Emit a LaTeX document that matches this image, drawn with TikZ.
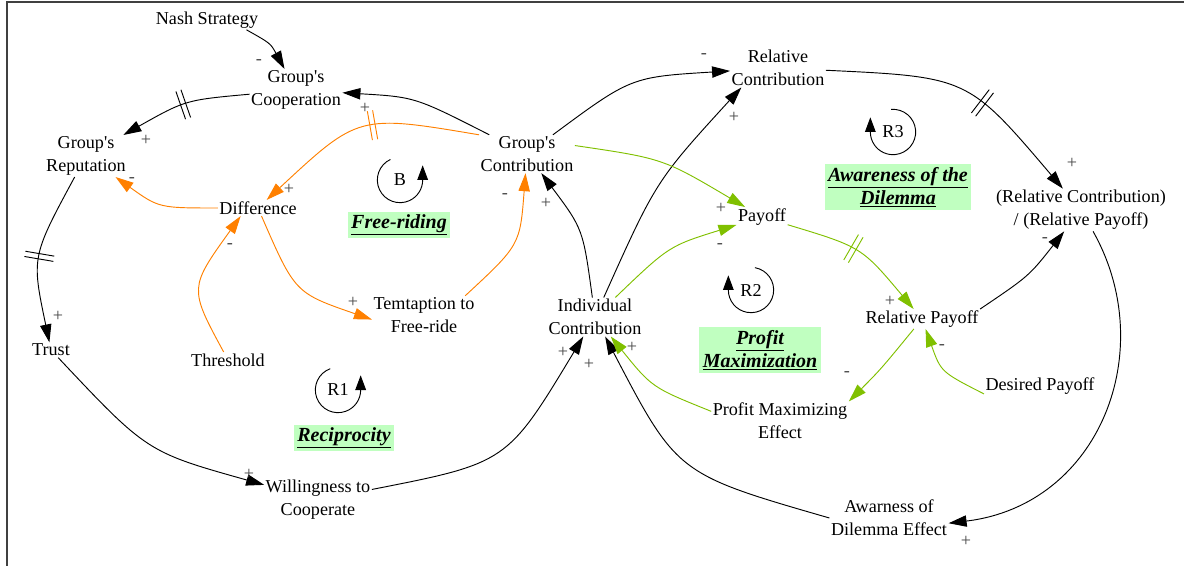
\documentclass[tikz,border=0pt]{standalone}
\usepackage{fontspec}
\setmainfont{Liberation Serif}
\usepackage{tikz}
\usetikzlibrary{arrows.meta, decorations.markings, calc}

\definecolor{cldorange}{RGB}{255,128,0}
\definecolor{cldgreen}{RGB}{128,192,0}
\definecolor{loopfill}{RGB}{192,255,192}
\definecolor{signgray}{RGB}{70,70,70}

\begin{document}
\begin{tikzpicture}[x=0.75pt, y=-0.75pt,
  every node/.style={font=\fontsize{13.6}{17.25}\selectfont},
  var/.style={align=center, inner sep=1pt},
  link/.style={line width=0.7pt, -{Triangle[length=13.5pt,width=8.5pt]}},
  orangelink/.style={link, color=cldorange},
  greenlink/.style={link, color=cldgreen},
  sign/.style={text=signgray, inner sep=0pt},
  delaymark/.style={postaction={decorate, decoration={markings, mark=at position #1 with {\draw[-, line width=0.7pt] (-2pt,-11pt) -- (-2pt,11pt); \draw[-, line width=0.7pt] (2pt,-11pt) -- (2pt,11pt);}}}},
  loopname/.style={inner sep=0pt},
  looparrow/.style={line width=0.7pt, -{Triangle[length=11pt,width=8pt]}},
  theme/.style={fill=loopfill, align=center, inner xsep=2.5pt, inner ysep=2pt, font=\fontsize{15}{17.25}\selectfont\bfseries\itshape}]
\useasboundingbox (0,0) rectangle (1184,566);

% Frame
\draw[line width=1.5pt, black!75] (1184,2) -- (7,2) -- (7,566);

% Variables
\node[var] (nash) at (207,20) {Nash Strategy};
\node[var] (gcoop) at (296,90) {Group\textquotesingle s\\Cooperation};
\node[var] (grep) at (86,156) {Group\textquotesingle s\\Reputation};
\node[var] (diff) at (258,208) {Difference};
\node[var] (trust) at (51,350) {Trust};
\node[var] (thresh) at (228,360) {Threshold};
\node[var] (tempt) at (424,315) {Temtaption to\\Free-ride};
\node[var] (gcont) at (527,154) {Group\textquotesingle s\\Contribution};
\node[var] (indiv) at (595,317) {Individual\\Contribution};
\node[var] (will) at (318,500) {Willingness to\\Cooperate};
\node[var] (relc) at (778,68) {Relative\\Contribution};
\node[var] (payoff) at (762,217) {Payoff};
\node[var] (ratio) at (1081,210) {(Relative Contribution)\\/ (Relative Payoff)};
\node[var] (relp) at (922,319) {Relative Payoff};
\node[var] (desp) at (1040,386) {Desired Payoff};
\node[var] (pme) at (780,421) {Profit Maximizing\\Effect};
\node[var] (awe) at (889,518) {Awarness of\\Dilemma Effect};

% Free-riding links
\draw[orangelink, delaymark=0.45] (gcont.north west) .. controls (358.5,114.5) .. (diff);
\draw[orangelink] (diff) .. controls (159,208) .. (grep);
\draw[orangelink] (thresh) .. controls (189,288) .. (diff.-155);
\draw[orangelink] (diff) .. controls (295,293) .. (tempt.185);
\draw[orangelink] (tempt.25) .. controls (520,245) .. (gcont);

% Reciprocity and awareness links
\draw[link] (nash.-14) .. controls (270.5,43.3) .. (gcoop);
\draw[link] (gcont) .. controls (415,97) .. (gcoop);
\draw[link, delaymark=0.5] (gcoop) .. controls (185.5,100) .. (grep);
\draw[link, delaymark=0.5] (grep) .. controls (31.5,257) .. (trust);
\draw[link] (trust) .. controls (147,452) .. (will);
\draw[link] (will) .. controls (507,463) .. (indiv);
\draw[link] (awe.west) .. controls (677,474) .. (indiv);
\draw[link] (indiv) .. controls (583,229) .. (gcont);
\draw[link] (indiv) .. controls (656,181) .. (relc.-152);
\draw[link] (gcont) .. controls (631,77) .. (relc);
\draw[link, delaymark=0.58] (relc) .. controls (968,77) .. (ratio);
\draw[link] (relp.north east) .. controls (1029,276) .. (ratio);
\draw[link] (ratio) .. controls (1160,350) and (1100,505) .. (awe.-5);

% Profit maximization links
\draw[greenlink] (pme.172) .. controls (652,387.5) .. (indiv);
\draw[greenlink] (gcont.10) .. controls (663,158.5) .. (payoff);
\draw[greenlink] (indiv) .. controls (669,246) .. (payoff);
\draw[greenlink, delaymark=0.45] (payoff) .. controls (861.5,247) .. (relp);
\draw[greenlink] (relp) .. controls (881,369) .. (pme.north east);
\draw[greenlink] (desp.-172) .. controls (941,372) .. (relp);

% Polarities
\node[sign] (p1) at (259,62) {-};
\node[sign] (p2) at (365,108) {+};
\node[sign] (p3) at (146,140) {+};
\node[sign] (p4) at (58,316) {+};
\node[sign] (p5) at (249,474) {+};
\node[sign] (p6) at (563,352) {+};
\node[sign] (p7) at (589,364) {+};
\node[sign] (p8) at (632,347) {+};
\node[sign] (p9) at (546,203) {+};
\node[sign] (p10) at (734,117) {+};
\node[sign] (p11) at (704,56) {-};
\node[sign] (p12) at (1072,163) {+};
\node[sign] (p13) at (1045,240) {-};
\node[sign] (p14) at (966,541) {+};
\node[sign] (p15) at (721,208) {+};
\node[sign] (p16) at (720,246) {-};
\node[sign] (p17) at (890,301) {+};
\node[sign] (p18) at (847,374) {-};
\node[sign] (p19) at (942,347) {-};
\node[sign] (p20) at (289,189) {+};
\node[sign] (p21) at (132,180) {-};
\node[sign] (p22) at (230,246) {-};
\node[sign] (p23) at (353,302) {+};
\node[sign] (p24) at (505,196) {-};

% Loop markers
\node[loopname] (loopB) at (400,180) {B};
\draw[looparrow] ([shift={(115:17pt)}]loopB.center) arc[start angle=115, end angle=360, radius=17pt] -- ++(0pt,11pt);
\node[loopname] (loopR1) at (338,390) {R1};
\draw[looparrow] ([shift={(110:17pt)}]loopR1.center) arc[start angle=110, end angle=360, radius=17pt] -- ++(0pt,11pt);
\node[loopname] (loopR2) at (751,290) {R2};
\draw[looparrow] ([shift={(80:17pt)}]loopR2.center) arc[start angle=80, end angle=-180, radius=17pt] -- ++(0pt,11pt);
\node[loopname] (loopR3) at (893,132) {R3};
\draw[looparrow] ([shift={(95:17pt)}]loopR3.center) arc[start angle=95, end angle=-180, radius=17pt] -- ++(0pt,11pt);

% Loop themes
\node[theme] (freeriding) at (399,225) {\underline{Free-riding}};
\node[theme] (reciprocity) at (344,438) {\underline{Reciprocity}};
\node[theme] (profitmax) at (760,350) {\underline{Profit}\\\underline{Maximization}};
\node[theme] (awareness) at (898,187) {\underline{Awareness of the}\\\underline{Dilemma}};
\end{tikzpicture}
\end{document}
